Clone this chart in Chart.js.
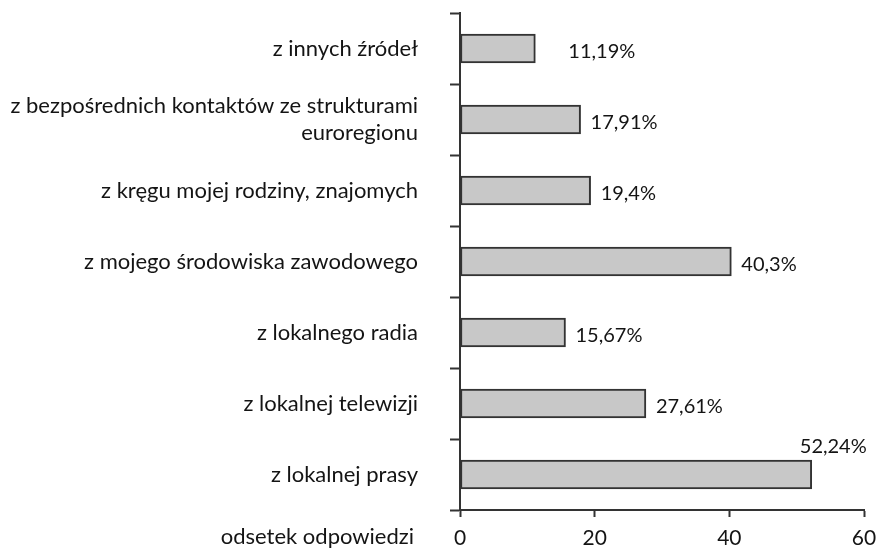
<!DOCTYPE html>
<html>
<head>
<meta charset="utf-8">
<script src="https://cdn.jsdelivr.net/npm/chart.js@4"></script>
<style>
  html, body { margin: 0; padding: 0; background: #fff; }
  #wrap { width: 876px; height: 550px; }
</style>
</head>
<body>
<div id="wrap"><canvas id="sourcesChart"></canvas></div>
<script>
const categories = [
    'z innych źródeł',
    ['z bezpośrednich kontaktów ze strukturami', 'euroregionu'],
    'z kręgu mojej rodziny, znajomych',
    'z mojego środowiska zawodowego',
    'z lokalnego radia',
    'z lokalnej telewizji',
    'z lokalnej prasy'
];
const shares = [11.19, 17.91, 19.4, 40.3, 15.67, 27.61, 52.24];
const shareLabels = ['11,19%', '17,91%', '19,4%', '40,3%', '15,67%', '27,61%', '52,24%'];
const xTicks = [0, 20, 40, 60];
const axisTitle = 'odsetek odpowiedzi';

const fontFamily = 'Lato, "DejaVu Sans", sans-serif';
const ink = '#141414';
const lineColor = '#333';

// value labels next to the bars, the last one sits above its bar
const valueLabels = {
    id: 'valueLabels',
    afterDatasetsDraw(chart) {
        const ctx = chart.ctx;
        const meta = chart.getDatasetMeta(0);
        ctx.save();
        ctx.fillStyle = ink;
        ctx.font = '20px ' + fontFamily;
        meta.data.forEach((bar, i) => {
            if (i === meta.data.length - 1) {
                ctx.textAlign = 'right';
                ctx.textBaseline = 'bottom';
                ctx.fillText(shareLabels[i], bar.x + 55, bar.y - bar.height / 2 - 3);
            } else {
                ctx.textAlign = 'left';
                ctx.textBaseline = 'middle';
                const gap = i === 0 ? 33 : 10;
                ctx.fillText(shareLabels[i], bar.x + gap, bar.y + 3);
            }
        });
        // axis caption on the tick label row
        const x = chart.scales.x;
        ctx.textAlign = 'right';
        ctx.textBaseline = 'middle';
        ctx.font = '22px ' + fontFamily;
        ctx.fillText(axisTitle, x.left - 46, x.bottom - 13);
        ctx.restore();
    }
};

new Chart(document.getElementById('sourcesChart').getContext('2d'), {
    type: 'bar',
    data: {
        labels: categories,
        datasets: [{
            data: shares,
            backgroundColor: '#c8c8c8',
            borderColor: lineColor,
            borderWidth: 2,
            borderSkipped: false,
            barThickness: 29
        }]
    },
    options: {
        indexAxis: 'y',
        responsive: true,
        maintainAspectRatio: false,
        animation: false,
        layout: { padding: { top: 13, right: 12, left: 0, bottom: 0 } },
        plugins: {
            legend: { display: false },
            tooltip: { enabled: false }
        },
        scales: {
            x: {
                min: 0,
                max: 60,
                afterBuildTicks: axis => { axis.ticks = xTicks.map(v => ({ value: v })); },
                afterFit: axis => {
                    axis.height = 40;
                    axis.paddingLeft = 0;
                    axis.paddingRight = 0;
                },
                grid: {
                    drawOnChartArea: false,
                    drawTicks: true,
                    tickLength: 7,
                    tickWidth: 2,
                    tickColor: lineColor
                },
                border: { display: true, color: lineColor, width: 2 },
                ticks: {
                    color: ink,
                    padding: 9,
                    maxRotation: 0,
                    font: { family: fontFamily, size: 21 }
                }
            },
            y: {
                afterFit: axis => {
                    axis.width = 460;
                    axis.paddingTop = 0;
                    axis.paddingBottom = 0;
                },
                grid: {
                    offset: true,
                    drawOnChartArea: false,
                    drawTicks: true,
                    tickLength: 10,
                    tickWidth: 2,
                    tickColor: lineColor
                },
                border: { display: true, color: lineColor, width: 2 },
                ticks: {
                    color: ink,
                    padding: 32,
                    font: { family: fontFamily, size: 22 }
                }
            }
        }
    },
    plugins: [valueLabels]
});
</script>
</body>
</html>
